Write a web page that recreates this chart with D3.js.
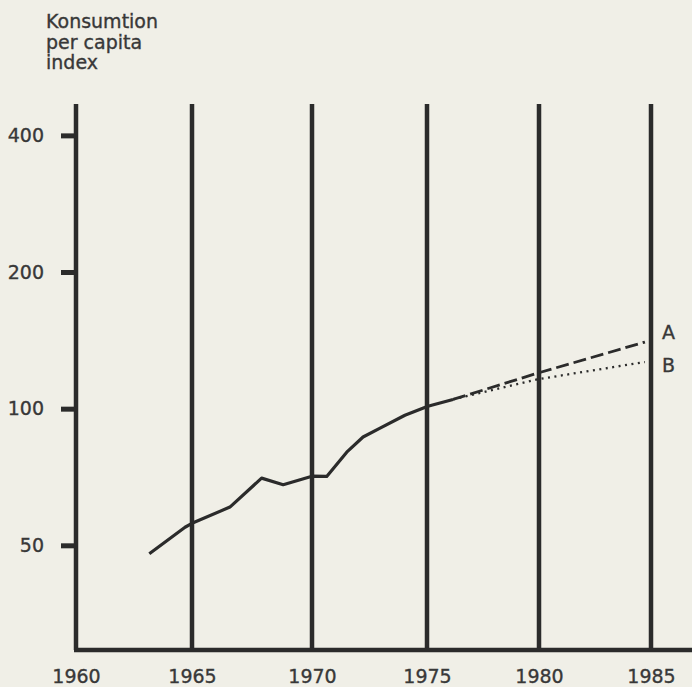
<!DOCTYPE html>
<html><head><meta charset="utf-8">
<script src="https://cdn.jsdelivr.net/npm/d3@7"></script>
<style>
html,body{margin:0;padding:0;background:#f0efe7;}
svg{display:block;}
</style></head>
<body>
<script>
// Data
const titleLines = ["Konsumtion", "per capita", "index"];
const gridYears = [1965, 1970, 1975, 1980, 1985];
const xTicks = [1960, 1965, 1970, 1975, 1980, 1985];
const yTicks = [50, 100, 200, 400];
const histYears  = [1963.16, 1964.7, 1965.0, 1966.58, 1967.9, 1968.8, 1970.0, 1970.64, 1971.51, 1972.22, 1972.96, 1974.04, 1975.04, 1976.16];
const histValues = [47.9, 54.8, 55.9, 60.7, 70.3, 68.0, 71.0, 70.9, 80.2, 86.6, 90.6, 96.7, 101.2, 104.8];
const projYears   = [1976.16, 1979.95, 1984.73];
const projAValues = [104.8, 119.8, 140.2];
const projBValues = [104.8, 116.1, 126.7];
const seriesLabels = ["A", "B"];

const W = 692, H = 687;
const ink = "#2b2b2b", textCol = "#383838";
const font = "DejaVu Sans, sans-serif";
const fs = 19;

const svg = d3.select("body").append("svg").attr("width", W).attr("height", H);
svg.append("rect").attr("width", W).attr("height", H).attr("fill", "#f0efe7");

// the printed year spacing is slightly uneven, so the scale follows it piecewise
const x = d3.scaleLinear().domain(xTicks).range([76, 192, 312, 427, 539, 651]);
const y = d3.scaleLog().domain([29.4, 469]).range([650, 104]);

function styleText(sel) {
  sel.attr("font-family", font).attr("font-size", fs).attr("fill", textCol)
     .attr("stroke", textCol).attr("stroke-width", 0.35);
}

// Title
svg.append("text").attr("x", 46).attr("y", 28).call(styleText)
  .selectAll("tspan").data(titleLines).join("tspan")
  .attr("x", 46).attr("dy", (d, i) => i === 0 ? 0 : 20.5).text(d => d);

// Vertical grid lines
svg.append("g").selectAll("line").data(gridYears).join("line")
  .attr("x1", d => x(d)).attr("x2", d => x(d))
  .attr("y1", y.range()[1]).attr("y2", y.range()[0])
  .attr("stroke", ink).attr("stroke-width", 4.5);

// Y axis
const yAxis = d3.axisLeft(y).tickValues(yTicks).tickFormat(d3.format("d")).tickSize(15).tickPadding(17);
const gy = svg.append("g").attr("transform", `translate(${x(1960)},0)`).call(yAxis);
gy.select(".domain").attr("stroke", ink).attr("stroke-width", 4.5).attr("d", `M0,${y.range()[1]}V${y.range()[0]}`);
gy.selectAll(".tick line").attr("stroke", ink).attr("stroke-width", 5);
gy.selectAll(".tick text").call(styleText);

// X axis (baseline)
const xAxis = d3.axisBottom(x).tickValues(xTicks).tickFormat(d3.format("d")).tickSize(0).tickPadding(20);
const gx = svg.append("g").attr("transform", `translate(0,${y.range()[0]})`).call(xAxis);
gx.select(".domain").attr("stroke", ink).attr("stroke-width", 4.5).attr("d", `M${x(1960)-2},0H${W}`);
gx.selectAll(".tick text").call(styleText);

// Historical series
const line = d3.line().x(d => x(d[0])).y(d => y(d[1]));
svg.append("path").datum(histYears.map((d, i) => [d, histValues[i]]))
  .attr("d", line).attr("fill", "none").attr("stroke", ink).attr("stroke-width", 3.2)
  .attr("stroke-linejoin", "round");

// Projection A (dashed)
svg.append("path").datum(projYears.map((d, i) => [d, projAValues[i]]))
  .attr("d", line).attr("fill", "none").attr("stroke", ink).attr("stroke-width", 2.8)
  .attr("stroke-dasharray", "13,5");

// Projection B (dotted)
svg.append("path").datum(projYears.map((d, i) => [d, projBValues[i]]))
  .attr("d", line).attr("fill", "none").attr("stroke", ink).attr("stroke-width", 2.3)
  .attr("stroke-dasharray", "2,4.5");

// Series labels
const ends = [projAValues[projAValues.length - 1], projBValues[projBValues.length - 1]];
svg.append("g").selectAll("text").data(seriesLabels).join("text")
  .attr("x", 662).attr("y", (d, i) => y(ends[i]) + (i === 0 ? -10 : 3))
  .attr("dy", "0.35em").call(styleText)
  .text(d => d);
</script>
</body></html>
